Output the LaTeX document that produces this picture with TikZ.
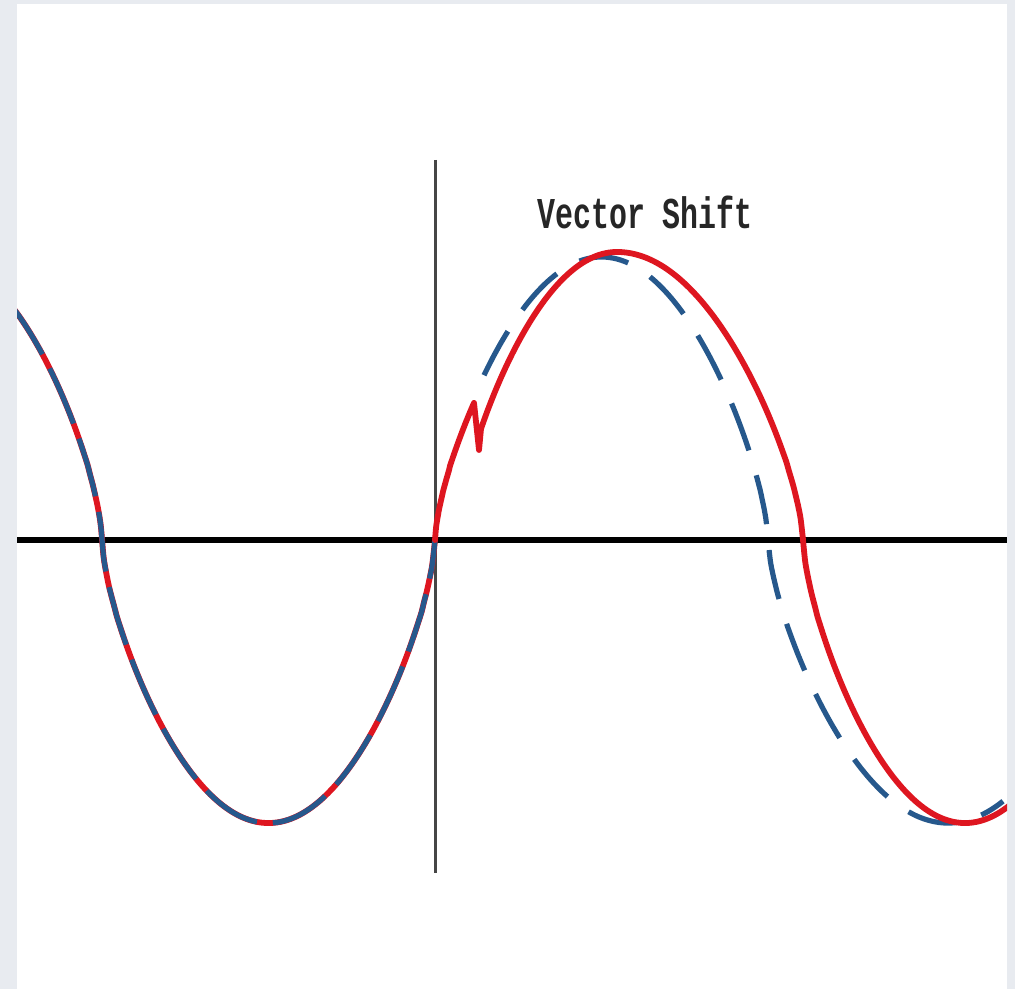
\documentclass[tikz,border=0pt]{standalone}
\usepackage{fontspec}
\usepackage{graphicx}
\newfontfamily\labelfont{Liberation Mono}
\definecolor{bgframe}{RGB}{232,235,240}
\definecolor{wavered}{RGB}{222,22,32}
\definecolor{waveblue}{RGB}{38,88,140}
\definecolor{axisgray}{RGB}{70,70,70}
\tikzset{
  redwave/.style={draw=wavered, line width=2.9pt, line join=round, line cap=round},
  bluewave/.style={draw=waveblue, line width=2.6pt, line join=round},
  haxis/.style={draw=black, line width=3.4pt},
  vaxis/.style={draw=axisgray, line width=1.5pt},
  titlelabel/.style={font=\labelfont\bfseries\fontsize{22}{24}\selectfont, text=black!85, inner sep=0pt, xscale=0.68, transform shape}
}
\begin{document}
\begin{tikzpicture}[x=0.5pt,y=-0.5pt,
  declare function={gg(\t)=sign(sin(\t))*pow(abs(sin(\t))+0.00001,0.67);}]
\useasboundingbox (0,0) rectangle (1015,989);
\fill[bgframe] (0,0) rectangle (1015,989);
\fill[white] (17,4) rectangle (1007,989);
\begin{scope}
\clip (17,4) rectangle (1007,989);
% axes
\draw[haxis] (17,540) coordinate (hl) -- (1007,540) coordinate (hr);
\draw[vaxis] (435,160) coordinate (vt) -- (435,873) coordinate (vb);
% left part: red under blue
\draw[redwave] plot[domain=10:435, samples=160, smooth] (\x,{540-283*gg((\x-435)/333*180)});
\draw[bluewave, dash pattern=on 30pt off 8pt] plot[domain=10:435, samples=160, smooth] (\x,{540-283*gg((\x-435)/333*180)});
% shifted blue dashed
\draw[bluewave, dash pattern=on 25pt off 13pt]
  plot[domain=484:768, samples=150, smooth] (\x,{540-283*gg((\x-435)/333*180)})
  -- plot[domain=768:1003, samples=100, smooth] (\x,{540-283*gg(180+(\x-768)/180*90)});
% red solid with glitch
\draw[redwave]
  plot[domain=435:474, samples=40, smooth] (\x,{540-288*gg((\x-435)/182*90)})
  -- (479,450)
  -- plot[domain=481:617, samples=70, smooth] (\x,{540-288*gg((\x-456)/161*90)})
  -- plot[domain=617:803, samples=80, smooth] (\x,{540-288*gg(90+(\x-617)/186*90)})
  -- plot[domain=803:965, samples=80, smooth] (\x,{540-283*gg(180+(\x-803)/162*90)})
  -- plot[domain=965:1012, samples=30, smooth] (\x,{540-283*gg(270+(\x-965)/162*90)});
\end{scope}
\node[titlelabel] (title) at (645,212) {Vector Shift};
\end{tikzpicture}
\end{document}
